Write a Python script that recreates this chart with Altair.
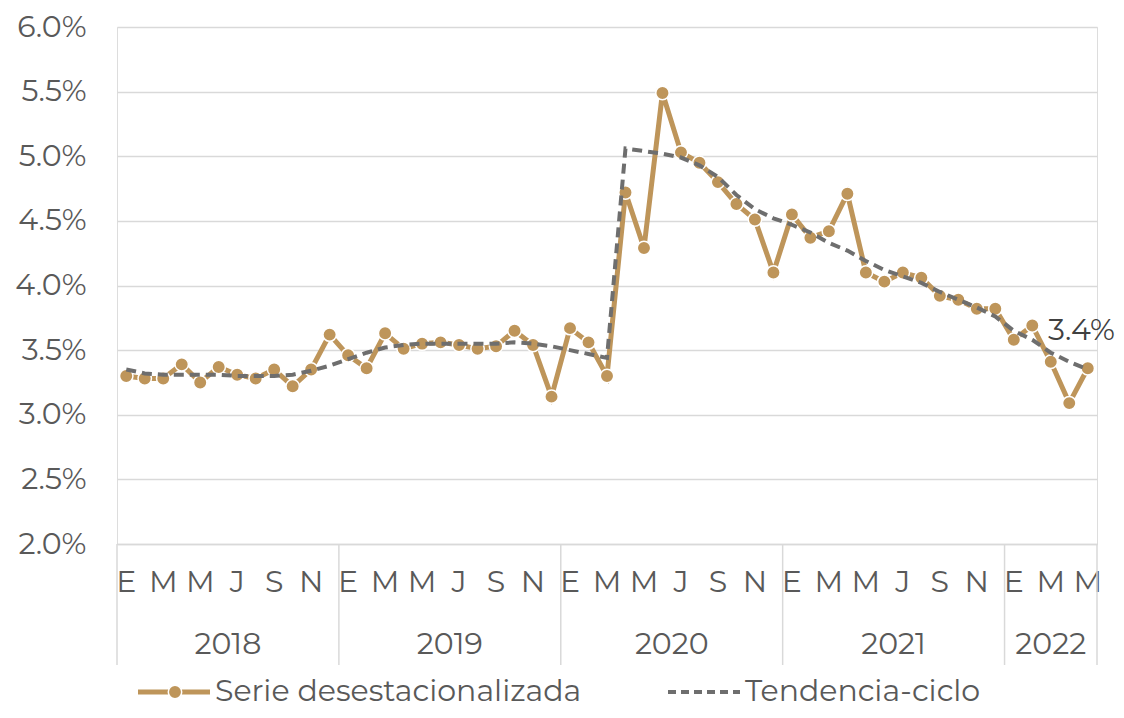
import altair as alt
import pandas as pd

# ---- data (percent) ----
years = [2018, 2019, 2020, 2021, 2022]
month_letters = ["E", "F", "M", "A", "M", "J", "J", "A", "S", "O", "N", "D"]
serie = [3.30, 3.28, 3.28, 3.39, 3.25, 3.37, 3.31, 3.28, 3.35, 3.22, 3.35, 3.62,
         3.46, 3.36, 3.63, 3.51, 3.55, 3.56, 3.54, 3.51, 3.53, 3.65, 3.54, 3.14,
         3.67, 3.56, 3.30, 4.72, 4.29, 5.49, 5.03, 4.95, 4.80, 4.63, 4.51, 4.10,
         4.55, 4.37, 4.42, 4.71, 4.10, 4.03, 4.10, 4.06, 3.92, 3.89, 3.82, 3.82,
         3.58, 3.69, 3.41, 3.09, 3.36]
tendencia = [3.35, 3.32, 3.31, 3.31, 3.31, 3.31, 3.30, 3.30, 3.30, 3.31, 3.34, 3.38,
             3.43, 3.48, 3.52, 3.54, 3.55, 3.55, 3.55, 3.55, 3.55, 3.56, 3.55, 3.53,
             3.50, 3.47, 3.44, 5.06, 5.04, 5.02, 4.99, 4.93, 4.84, 4.70, 4.59, 4.52,
             4.47, 4.41, 4.33, 4.27, 4.19, 4.12, 4.07, 4.02, 3.95, 3.89, 3.83, 3.76,
             3.65, 3.58, 3.48, 3.41, 3.35]
legend_labels = ["Serie desestacionalizada", "Tendencia-ciclo"]

n = len(serie)
df = pd.DataFrame({"i": list(range(n)), "serie": serie, "tendencia": tendencia})

df_months = pd.DataFrame({
    "i": [i for i in range(n) if i % 2 == 0],
    "m": [month_letters[i % 12] for i in range(n) if i % 2 == 0],
})

year_rows = []
start = 0
for y in years:
    cnt = min(12, n - start)
    year_rows.append({"year": str(y), "center": start + (cnt - 1) / 2})
    start += cnt
df_years = pd.DataFrame(year_rows)
df_sep = pd.DataFrame({"b": [-0.5, 11.5, 23.5, 35.5, 47.5, n - 0.5]})

FONT = "Montserrat, Open Sans"
FS = 30
TXT = "#595959"
GOLD = "#BE955A"
GRAY = "#6E6E6E"
GRID = "#D9D9D9"

W, H = 980, 517

xs = alt.Scale(domain=[-0.5, n - 0.5], nice=False, zero=False)
ys = alt.Scale(domain=[2.0, 6.0], nice=False, zero=False)

x_enc = alt.X("i:Q", scale=xs, axis=alt.Axis(
    title=None, grid=False, ticks=False, labels=False, domain=True,
    domainColor=GRID, domainWidth=1.5))

y_axis = alt.Axis(values=[2.0, 2.5, 3.0, 3.5, 4.0, 4.5, 5.0, 5.5, 6.0],
                  labelExpr="format(datum.value, '.1f') + '%'",
                  title=None, grid=True, gridColor=GRID, gridWidth=1.5,
                  ticks=False, domain=False, labelFont=FONT, labelFontSize=FS,
                  labelColor=TXT, labelPadding=31)

base = alt.Chart(df)

line_serie = base.mark_line(color=GOLD, strokeWidth=5).encode(
    x=x_enc, y=alt.Y("serie:Q", scale=ys, axis=y_axis))
pts_serie = base.mark_point(filled=True, color=GOLD, size=180, stroke="white",
                            strokeWidth=1.5, opacity=1).encode(
    x=alt.X("i:Q", scale=xs), y=alt.Y("serie:Q", scale=ys))
line_trend = base.mark_line(color=GRAY, strokeWidth=4, strokeDash=[10, 6]).encode(
    x=alt.X("i:Q", scale=xs), y=alt.Y("tendencia:Q", scale=ys))

last_label = base.transform_filter(alt.datum.i == n - 1).transform_calculate(
    lbl="format(datum.serie, '.1f') + '%'"
).mark_text(font=FONT, fontSize=FS, color="#404040", dx=27, dy=-37, align="right",
            baseline="middle").encode(
    x=alt.X("i:Q", scale=xs), y=alt.Y("serie:Q", scale=ys), text="lbl:N")

month_text = alt.Chart(df_months).mark_text(font=FONT, fontSize=FS, color=TXT,
                                            baseline="middle").encode(
    x=alt.X("i:Q", scale=xs), y=alt.value(H + 39), text="m:N")

seps = alt.Chart(df_sep).mark_rule(color=GRID, strokeWidth=1.5).encode(
    x=alt.X("b:Q", scale=xs), y=alt.value(H), y2=alt.value(H + 121))

year_text = alt.Chart(df_years).mark_text(font=FONT, fontSize=FS, color=TXT,
                                          baseline="middle").encode(
    x=alt.X("center:Q", scale=xs), y=alt.value(H + 101), text="year:N")

# legend (decoration)
LY = H + 148
leg_df = pd.DataFrame({"k": [0]})
leg = alt.Chart(leg_df)
leg_line1 = leg.mark_rule(color=GOLD, strokeWidth=5).encode(
    x=alt.value(21), x2=alt.value(93), y=alt.value(LY))
leg_pt1 = leg.mark_point(filled=True, color=GOLD, size=180, stroke="white",
                         strokeWidth=1.5, opacity=1).encode(
    x=alt.value(58), y=alt.value(LY))
leg_txt1 = leg.mark_text(font=FONT, fontSize=FS, color=TXT, align="left",
                         baseline="middle").encode(
    x=alt.value(98), y=alt.value(LY), text=alt.value(legend_labels[0]))
leg_line2 = leg.mark_rule(color=GRAY, strokeWidth=4, strokeDash=[8, 5]).encode(
    x=alt.value(551), x2=alt.value(623), y=alt.value(LY))
leg_txt2 = leg.mark_text(font=FONT, fontSize=FS, color=TXT, align="left",
                         baseline="middle").encode(
    x=alt.value(628), y=alt.value(LY), text=alt.value(legend_labels[1]))

chart = alt.layer(
    line_serie, pts_serie, line_trend, last_label, month_text, seps, year_text,
    leg_line1, leg_pt1, leg_txt1, leg_line2, leg_txt2
).properties(
    width=W, height=H,
    autosize=alt.AutoSizeParams(type="none"),
    padding={"left": 109, "top": 19, "right": 19, "bottom": 166},
).configure_view(stroke=None).configure(background="white")

chart.save("out.html", embed_options={"renderer": "svg", "actions": False})
